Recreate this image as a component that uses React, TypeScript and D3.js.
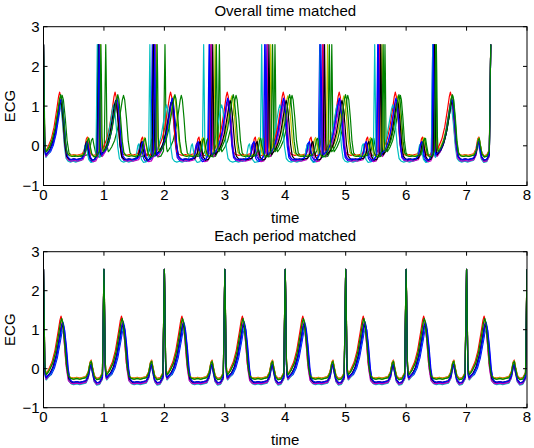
import * as d3 from "d3";

const beatPhase = [0, 0.008, 0.02, 0.03, 0.045, 0.07, 0.1, 0.15, 0.2, 0.25, 0.28, 0.3, 0.32, 0.35, 0.38, 0.41, 0.45, 0.5, 0.55, 0.6, 0.65, 0.7, 0.74, 0.77, 0.79, 0.81, 0.84, 0.88, 0.93, 0.975, 0.99, 1];
const beatValue = [2.55, 1.8, 0.2, -0.08, -0.17, -0.12, -0.05, 0.12, 0.42, 0.88, 1.18, 1.3, 1.18, 0.7, 0.1, -0.2, -0.27, -0.29, -0.27, -0.29, -0.27, -0.25, -0.13, 0.12, 0.17, 0.0, -0.22, -0.3, -0.28, -0.15, 1.5, 2.55];

// per recording: colour, T-wave height, baseline shift, T-wave delay
const seriesColors = ["#0000ff", "#008000", "#ff0000", "#00bfbf", "#bf00bf", "#bfbf00", "#000000", "#0000ff", "#008000"];
const tWaveHeight = [1.2, 1.25, 1.3, 1.15, 1.28, 1.22, 1.2, 1.26, 1.27];
const baseShift = [-0.1, 0.02, 0.05, -0.12, -0.1, 0.04, -0.06, -0.06, 0.02];
const tWaveDelay = [0.03, 0, -0.01, 0.01, 0, 0, 0.01, 0.02, 0];

// R-peak times of each recording in the top panel
const overallPeaks = [
  [0, 0.9, 1.8, 2.74, 3.66, 4.57, 5.53, 6.44, 7.4],
  [0, 1.03, 2.01, 2.91, 3.83, 4.77, 5.65, 6.5, 7.4],
  [0, 0.92, 1.83, 2.77, 3.7, 4.62, 5.56, 6.46, 7.4],
  [0, 0.89, 1.76, 2.65, 3.61, 4.58, 5.48, 6.44, 7.4],
  [0, 0.93, 1.85, 2.78, 3.71, 4.63, 5.57, 6.47, 7.4],
  [0, 0.94, 1.87, 2.84, 3.76, 4.7, 5.6, 6.48, 7.4],
  [0, 0.91, 1.82, 2.8, 3.73, 4.65, 5.58, 6.47, 7.4],
  [0, 0.92, 1.84, 2.75, 3.68, 4.59, 5.54, 6.45, 7.4],
  [0, 0.95, 1.88, 2.86, 3.79, 4.73, 5.62, 6.49, 7.4],
];
// bottom panel: every period stretched to 1
const periodPeaks = [0, 1, 2, 3, 4, 5, 6, 7, 8];

const xTicks = [0, 1, 2, 3, 4, 5, 6, 7, 8];
const yTicks = [-1, 0, 1, 2, 3];

const W = 534;
const H = 448;
const left = 43.5;
const right = 527;
const font = "Liberation Sans, Arial, Helvetica, sans-serif";
const fs = 15;

const buildSeries = (i: number, peaks: number[]) => {
  const pts: [number, number][] = [];
  for (let k = 0; k < peaks.length - 1; k++) {
    const t0 = peaks[k];
    const t1 = peaks[k + 1];
    beatPhase.forEach((p, j) => {
      if (k > 0 && j === 0) return;
      let v = beatValue[j];
      let ph = p;
      if (v < 2.5) {
        if (p >= 0.1 && p <= 0.45) {
          ph = p + tWaveDelay[i];
          if (v > 0) v = (v * tWaveHeight[i]) / 1.3;
        }
        v += baseShift[i];
      }
      pts.push([t0 + ph * (t1 - t0), v]);
    });
  }
  return pts;
};

const Panel = ({ id, top, bottom, title, peaksFor }: { id: string; top: number; bottom: number; title: string; peaksFor: (i: number) => number[] }) => {
  const x = d3.scaleLinear().domain([0, 8]).range([left, right]);
  const y = d3.scaleLinear().domain([-1, 3]).range([bottom, top]);
  const line = d3
    .line<[number, number]>()
    .x(d => x(d[0]))
    .y(d => y(d[1]));
  const mid = (left + right) / 2;
  return (
    <g>
      <defs>
        <clipPath id={id}>
          <rect x={left} y={top} width={right - left} height={bottom - top} />
        </clipPath>
      </defs>
      <g clipPath={`url(#${id})`}>
        {seriesColors.map((c, i) => (
          <path key={i} d={line(buildSeries(i, peaksFor(i))) ?? ""} fill="none" stroke={c} strokeWidth={1.2} strokeLinejoin="round" />
        ))}
      </g>
      <rect x={left} y={top} width={right - left} height={bottom - top} fill="none" stroke="#000" strokeWidth={1} />
      {xTicks.map(t => (
        <g key={`x${t}`}>
          <line x1={x(t)} x2={x(t)} y1={bottom} y2={bottom - 4} stroke="#000" />
          <line x1={x(t)} x2={x(t)} y1={top} y2={top + 4} stroke="#000" />
          <text x={x(t)} y={bottom + 14.5} textAnchor="middle" fontSize={fs} fontFamily={font}>
            {t}
          </text>
        </g>
      ))}
      {yTicks.map(t => (
        <g key={`y${t}`}>
          <line x1={left} x2={left + 4} y1={y(t)} y2={y(t)} stroke="#000" />
          <line x1={right} x2={right - 4} y1={y(t)} y2={y(t)} stroke="#000" />
          <text x={left - 4} y={y(t)} dy="0.36em" textAnchor="end" fontSize={fs} fontFamily={font}>
            {t < 0 ? `\u2212${-t}` : t}
          </text>
        </g>
      ))}
      <text x={mid} y={top - 11} textAnchor="middle" fontSize={fs} fontFamily={font}>
        {title}
      </text>
      <text x={mid} y={bottom + 37} textAnchor="middle" fontSize={fs} fontFamily={font}>
        time
      </text>
      <text transform={`translate(14.5, ${(top + bottom) / 2}) rotate(-90)`} textAnchor="middle" fontSize={fs} fontFamily={font}>
        ECG
      </text>
    </g>
  );
};

export default function App() {
  return (
    <svg width={W} height={H} style={{ position: "absolute", left: 0, top: 0, background: "#fff" }}>
      <rect width={W} height={H} fill="#fff" />
      <Panel id="clipA" top={26.7} bottom={185.5} title="Overall time matched" peaksFor={i => overallPeaks[i]} />
      <Panel id="clipB" top={251.7} bottom={407.7} title="Each period matched" peaksFor={() => periodPeaks} />
    </svg>
  );
}
